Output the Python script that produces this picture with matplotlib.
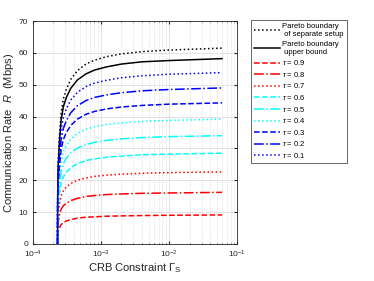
import numpy as np
import matplotlib
matplotlib.use('Agg')
import matplotlib.pyplot as plt

plt.rcParams['font.family'] = ['Liberation Sans', 'DejaVu Sans']
plt.rcParams['mathtext.fontset'] = 'custom'
plt.rcParams['mathtext.rm'] = 'Liberation Sans'
plt.rcParams['mathtext.it'] = 'Liberation Sans:italic'

# CRB constraint grid (x axis)
crb = [2.30e-4, 2.31e-4, 2.35e-4, 2.45e-4, 2.6e-4, 2.8e-4, 3.1e-4, 3.6e-4,
       4.5e-4, 6e-4, 8e-4, 1.2e-3, 2e-3, 4e-3, 1e-2, 6e-2]

# communication rate (Mbps)
rate_separate = [0, 15.4, 25.8, 33.8, 41.2, 45.5, 48.6, 51.7, 54.4, 56.5, 57.7, 58.8, 59.7, 60.4, 60.9, 61.5]
rate_upper = [0, 14.6, 24.4, 32.0, 39.0, 43.1, 46.0, 48.9, 51.5, 53.4, 54.6, 55.6, 56.5, 57.2, 57.6, 58.2]
rate_t09 = [0, 2.3, 3.8, 5.0, 6.1, 6.7, 7.2, 7.6, 8.1, 8.4, 8.5, 8.7, 8.8, 8.9, 9.0, 9.1]
rate_t08 = [0, 4.1, 6.8, 8.9, 10.9, 12.0, 12.8, 13.6, 14.3, 14.9, 15.2, 15.5, 15.7, 15.9, 16.0, 16.2]
rate_t07 = [0, 5.7, 9.5, 12.4, 15.1, 16.7, 17.9, 19.0, 20.0, 20.7, 21.2, 21.6, 21.9, 22.2, 22.4, 22.6]
rate_t06 = [0, 7.1, 12.0, 15.7, 19.1, 21.1, 22.5, 23.9, 25.2, 26.2, 26.7, 27.2, 27.6, 28.0, 28.2, 28.5]
rate_t05 = [0, 8.5, 14.3, 18.7, 22.8, 25.2, 26.9, 28.6, 30.1, 31.2, 31.9, 32.5, 33.0, 33.4, 33.7, 34.0]
rate_t04 = [0, 9.8, 16.5, 21.6, 26.3, 29.0, 31.0, 32.9, 34.7, 36.0, 36.8, 37.5, 38.0, 38.5, 38.8, 39.2]
rate_t03 = [0, 11.1, 18.6, 24.4, 29.7, 32.8, 35.0, 37.2, 39.2, 40.7, 41.6, 42.4, 43.0, 43.5, 43.9, 44.3]
rate_t02 = [0, 12.3, 20.6, 27.0, 32.8, 36.3, 38.7, 41.2, 43.4, 45.0, 46.0, 46.8, 47.5, 48.1, 48.5, 49.0]
rate_t01 = [0, 13.5, 22.6, 29.6, 36.0, 39.8, 42.5, 45.2, 47.6, 49.4, 50.5, 51.4, 52.2, 52.8, 53.3, 53.8]

labels = ['Pareto boundary\n of separate setup', 'Pareto boundary\n upper bound',
          r'$\tau$ = 0.9', r'$\tau$ = 0.8', r'$\tau$ = 0.7', r'$\tau$ = 0.6',
          r'$\tau$ = 0.5', r'$\tau$ = 0.4', r'$\tau$ = 0.3', r'$\tau$ = 0.2',
          r'$\tau$ = 0.1']
series = [rate_separate, rate_upper, rate_t09, rate_t08, rate_t07, rate_t06,
          rate_t05, rate_t04, rate_t03, rate_t02, rate_t01]
colors = ['k', 'k', 'red', 'red', 'red', 'cyan', 'cyan', 'cyan', 'blue', 'blue', 'blue']
styles = [':', '-', '--', '-.', ':', '--', '-.', ':', '--', '-.', ':']

fig = plt.figure(figsize=(3.74, 2.81), dpi=100)
ax = fig.add_axes([0.088, 0.132, 0.546, 0.793])

for y, lab, c, ls in zip(series, labels, colors, styles):
    ax.semilogx(crb, y, color=c, linestyle=ls, linewidth=1.1, label=lab)

ax.set_xlim(1e-4, 1e-1)
ax.set_ylim(0, 70)
ax.set_yticks(np.arange(0, 71, 10))
ax.grid(True, which='major', color='#dedede', linewidth=0.6)
ax.grid(True, which='minor', color='#d6d6d6', linestyle=':', linewidth=0.6)
ax.set_axisbelow(True)
ax.tick_params(which='both', direction='in', top=True, right=True, labelsize=6,
               colors='#262626', length=2)
ax.tick_params(which='minor', length=1)
for sp in ax.spines.values():
    sp.set_color('#262626')
    sp.set_linewidth(0.6)

ax.set_xlabel(r'CRB Constraint $\Gamma_{\rm S}$', fontsize=8, color='#262626', labelpad=1)
ax.set_ylabel(r'Communication Rate  $R$  (Mbps)', fontsize=8, color='#262626', labelpad=2)

leg = fig.legend(loc='upper left', bbox_to_anchor=(0.671, 0.929), fontsize=5.5,
                 frameon=True, fancybox=False, edgecolor='#262626', handlelength=3.4,
                 handletextpad=0.3, borderpad=0.4, labelspacing=0.34, borderaxespad=0)
leg.get_frame().set_linewidth(0.6)

fig.savefig('out.png', dpi=100)
